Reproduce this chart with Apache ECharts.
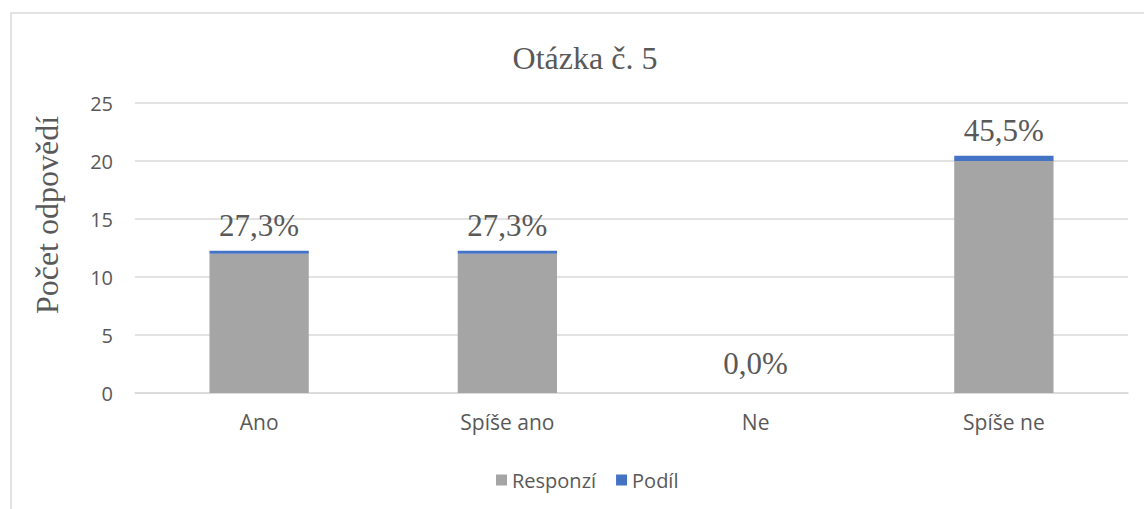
<!DOCTYPE html>
<html>
<head>
<meta charset="utf-8">
<script src="https://cdn.jsdelivr.net/npm/echarts@6/dist/echarts.min.js"></script>
<style>
  html, body { margin: 0; padding: 0; background: #fff; }
  #chart { width: 1144px; height: 509px; }
</style>
</head>
<body>
<div id="chart"></div>
<script>
// kategorie a hodnoty
const categories = ['Ano', 'Spíše ano', 'Ne', 'Spíše ne'];
const responzi = [12, 12, 0, 20];
const podil = [0.273, 0.273, 0, 0.455];
const yTicks = [0, 5, 10, 15, 20, 25];

const serif = '"Liberation Serif", "Times New Roman", serif';
const sans = '"Open Sans", "Noto Sans", sans-serif';
const textColor = '#595959';

const chart = echarts.init(document.getElementById('chart'), null, { renderer: 'svg' });

const pct = (v) => (v * 100).toFixed(1).replace('.', ',') + '%';

const option = {
  animation: false,
  graphic: [{
    type: 'rect',
    shape: { x: 11, y: 13, width: 1300, height: 700 },
    style: { fill: 'none', stroke: '#d9d9d9', lineWidth: 1.5 },
    silent: true
  }],
  title: {
    text: 'Otázka č. 5',
    left: 580,
    textAlign: 'center',
    top: 37,
    textStyle: { fontFamily: serif, fontSize: 32, fontWeight: 'normal', color: textColor }
  },
  legend: {
    data: ['Responzí', 'Podíl'],
    left: 491,
    top: 465,
    itemWidth: 11,
    itemHeight: 11,
    itemGap: 20,
    icon: 'rect',
    textStyle: { fontFamily: sans, fontSize: 20, color: textColor }
  },
  grid: { left: 135, right: 16, top: 103, bottom: 116, containLabel: false },
  xAxis: {
    type: 'category',
    data: categories,
    axisLine: { lineStyle: { color: '#d9d9d9', width: 1.5 } },
    axisTick: { show: false },
    axisLabel: { margin: 18, fontFamily: sans, fontSize: 21, color: textColor }
  },
  yAxis: {
    type: 'value',
    min: yTicks[0],
    max: yTicks[yTicks.length - 1],
    interval: yTicks[1] - yTicks[0],
    name: 'Počet odpovědí',
    nameLocation: 'middle',
    nameRotate: 90,
    nameGap: 72,
    nameTextStyle: { fontFamily: serif, fontSize: 32, color: textColor, padding: [0, 0, 0, 66] },
    axisLine: { show: false },
    axisTick: { show: false },
    axisLabel: { margin: 22, fontFamily: sans, fontSize: 20, color: textColor },
    splitLine: { lineStyle: { color: '#d9d9d9', width: 1.5 } }
  },
  series: [
    {
      name: 'Responzí',
      type: 'bar',
      stack: 'q5',
      barWidth: '40%',
      itemStyle: { color: '#a5a5a5' },
      data: responzi
    },
    {
      name: 'Podíl',
      type: 'bar',
      stack: 'q5',
      barWidth: '40%',
      itemStyle: { color: '#4472c4' },
      data: podil.map((v) => ({
        value: v,
        label: { distance: v === 0 ? 14 : 10 }
      })),
      label: {
        show: true,
        position: 'top',
        formatter: (p) => pct(p.value),
        fontFamily: serif,
        fontSize: 31,
        color: textColor
      }
    }
  ]
};

chart.setOption(option);
window.addEventListener('resize', chart.resize);
</script>
</body>
</html>
